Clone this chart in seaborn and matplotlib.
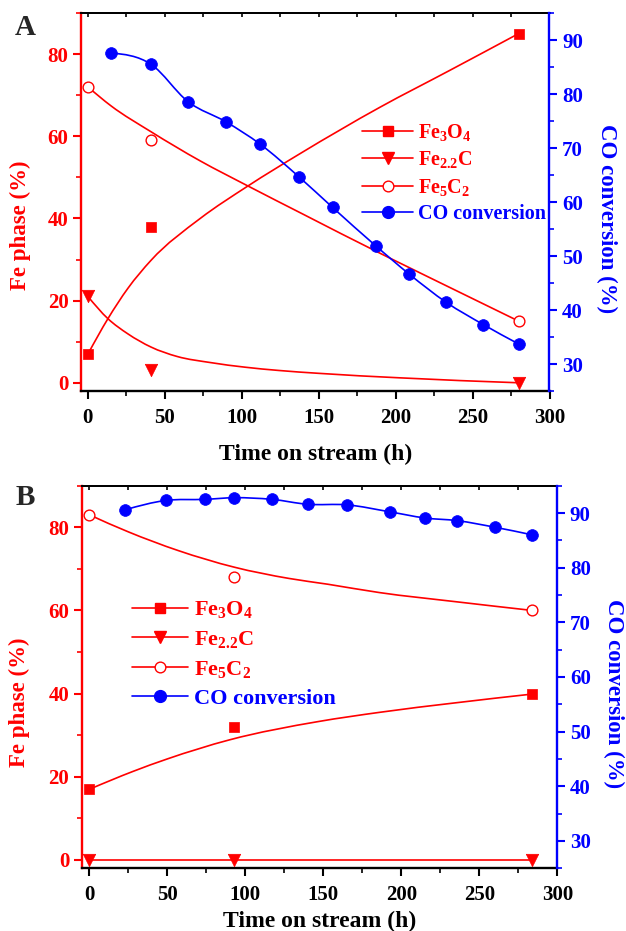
import numpy as np
import pandas as pd
import matplotlib
matplotlib.use("Agg")
import matplotlib.pyplot as plt
import seaborn as sns
from matplotlib.path import Path
from matplotlib.patches import PathPatch
from matplotlib.lines import Line2D
from matplotlib.ticker import MultipleLocator

# ---------------- Panel A data ----------------
a_fe_time = [0, 41, 280]
a_fe3o4 = [7, 38, 85]
a_fe22c = [21, 3, 0]
a_fe5c2 = [72, 59, 15]
a_co_time = [15, 41, 65, 90, 112, 137, 159, 187, 209, 233, 257, 280]
a_co = [87.6, 85.5, 78.6, 74.8, 70.7, 64.7, 59.0, 51.9, 46.6, 41.4, 37.3, 33.7]
# trend curves
a_fe3o4_fit_t = [0, 13, 26, 41, 73, 104, 138, 190, 235, 280]
a_fe3o4_fit = [7, 15.6, 23.0, 29.8, 40.0, 47.9, 55.8, 67.1, 76.0, 85]
a_fe22c_fit_t = [0, 13, 26, 41, 58, 80, 102, 124, 150, 203, 280]
a_fe22c_fit = [21, 15.6, 11.9, 8.7, 6.4, 4.9, 3.8, 3.0, 2.3, 1.2, 0]
a_fe5c2_fit_t = [0, 15, 41, 73, 104, 140, 190, 209, 233, 280]
a_fe5c2_fit = [72, 67.4, 61.1, 54.0, 47.9, 41.0, 31.5, 28.0, 23.6, 15]

# ---------------- Panel B data ----------------
b_fe_time = [0, 93, 284]
b_fe3o4 = [17, 32, 40]
b_fe22c = [0, 0, 0]
b_fe5c2 = [83, 68, 60]
b_co_time = [23, 49, 74, 93, 117, 140, 165, 193, 215, 236, 260, 284]
b_co = [90.6, 92.3, 92.5, 92.8, 92.5, 91.6, 91.5, 90.2, 89.1, 88.6, 87.4, 86.0]
b_fe3o4_fit_t = [0, 28, 50, 90, 147, 186, 235, 284]
b_fe3o4_fit = [17, 21.3, 24.3, 28.9, 33.3, 35.5, 37.8, 39.9]
b_fe22c_fit_t = [0, 284]
b_fe22c_fit = [0, 0]
b_fe5c2_fit_t = [0, 25, 57, 93, 128, 153, 186, 235, 284]
b_fe5c2_fit = [83, 78.9, 74.4, 70.4, 67.7, 66.3, 64.3, 62.1, 60]

legend_labels = [r'Fe$_{3}$O$_{4}$', r'Fe$_{2.2}$C', r'Fe$_{5}$C$_{2}$', 'CO conversion']
x_label = 'Time on stream (h)'
y_left_label = 'Fe phase (%)'
y_right_label = 'CO conversion (%)'

RED = '#FF0000'
BLUE = '#0000FF'

sns.set_style('ticks')
plt.rcParams['font.family'] = ['Liberation Serif', 'DejaVu Serif']
plt.rcParams['font.weight'] = 'bold'
plt.rcParams['axes.labelweight'] = 'bold'
plt.rcParams['mathtext.default'] = 'regular'


def draw_curve(ax, t, v, color, lw=1.2, z=2):
    """Smooth cubic Hermite curve through the given points (drawn in data coords)."""
    x = np.asarray(t, float)
    y = np.asarray(v, float)
    n = len(x)
    if n == 2:
        verts = [(x[0], y[0]), (x[1], y[1])]
        codes = [Path.MOVETO, Path.LINETO]
    else:
        h = np.diff(x)
        d = np.diff(y) / h
        m = np.empty(n)
        m[1:-1] = (d[:-1] * h[1:] + d[1:] * h[:-1]) / (h[:-1] + h[1:])
        m[0] = 1.5 * d[0] - 0.5 * m[1]
        m[-1] = 1.5 * d[-1] - 0.5 * m[-2]
        verts = [(x[0], y[0])]
        codes = [Path.MOVETO]
        for i in range(n - 1):
            verts += [(x[i] + h[i] / 3, y[i] + m[i] * h[i] / 3),
                      (x[i + 1] - h[i] / 3, y[i + 1] - m[i + 1] * h[i] / 3),
                      (x[i + 1], y[i + 1])]
            codes += [Path.CURVE4] * 3
    ax.add_patch(PathPatch(Path(verts, codes), fill=False, edgecolor=color,
                           lw=lw, zorder=z, capstyle='round'))


def panel(fig, rect, fe_t, fe3o4, fe22c, fe5c2, co_t, co, fits, xlim,
          leg_anchor, leg_size, leg_spacing, ylab_left, ylab_right, xlab_y):
    ax = fig.add_axes(rect)
    ax2 = ax.twinx()
    ax.set_xlim(*xlim)
    ax.set_ylim(-2, 90)
    ax2.set_ylim(25, 95)

    (f3t, f3), (f22t, f22), (f5t, f5) = fits
    draw_curve(ax, f3t, f3, RED)
    draw_curve(ax, f22t, f22, RED)
    draw_curve(ax, f5t, f5, RED)
    draw_curve(ax2, co_t, co, BLUE)

    sns.scatterplot(x=fe_t, y=fe3o4, marker='s', s=55, color=RED, edgecolor=RED,
                    linewidth=0.5, ax=ax, zorder=4, legend=False)
    sns.scatterplot(x=fe_t, y=fe22c, marker='v', s=80, color=RED, edgecolor=RED,
                    linewidth=0.5, ax=ax, zorder=4, legend=False)
    sns.scatterplot(x=fe_t, y=fe5c2, marker='o', s=60, facecolor='white', edgecolor=RED,
                    linewidth=1.0, ax=ax, zorder=4, legend=False)
    sns.scatterplot(x=co_t, y=co, marker='o', s=72, color=BLUE, edgecolor=BLUE,
                    linewidth=0.5, ax=ax2, zorder=4, legend=False)

    ax.spines['left'].set_color(RED)
    ax.spines['left'].set_linewidth(1.7)
    ax.spines['bottom'].set_linewidth(1.7)
    ax.spines['bottom'].set_color('black')
    ax.spines['top'].set_linewidth(1.4)
    ax.spines['top'].set_color('black')
    ax.spines['right'].set_visible(False)
    for s in ['left', 'top', 'bottom']:
        ax2.spines[s].set_visible(False)
    ax2.spines['right'].set_color(BLUE)
    ax2.spines['right'].set_linewidth(1.7)

    ax.xaxis.set_major_locator(MultipleLocator(50))
    ax.xaxis.set_minor_locator(MultipleLocator(25))
    ax.yaxis.set_major_locator(MultipleLocator(20))
    ax.yaxis.set_minor_locator(MultipleLocator(10))
    ax2.yaxis.set_major_locator(MultipleLocator(10))
    ax2.yaxis.set_minor_locator(MultipleLocator(5))
    ax.tick_params(axis='x', which='major', direction='out', length=6, width=1.5,
                   labelsize=15, colors='black', pad=6, top=False)
    ax.tick_params(axis='x', which='minor', direction='out', length=3.5, width=1.2,
                   colors='black', top=False)
    ax.tick_params(axis='y', which='major', direction='out', length=6, width=1.5,
                   labelsize=15, colors=RED, pad=3)
    ax.tick_params(axis='y', which='minor', direction='out', length=3.5, width=1.2,
                   colors=RED)
    ax2.tick_params(axis='y', which='major', direction='out', length=6, width=1.5,
                    labelsize=15, colors=BLUE, pad=3)
    ax2.tick_params(axis='y', which='minor', direction='out', length=3.5, width=1.2,
                    colors=BLUE)
    sec = ax.secondary_xaxis('top')
    sec.xaxis.set_major_locator(MultipleLocator(25))
    sec.tick_params(axis='x', direction='in', length=3, width=1.2, labeltop=False,
                    labelbottom=False, colors='black')
    sec.spines['top'].set_linewidth(1.4)

    ax.set_xlabel(x_label, fontsize=17, color='black')
    ax.xaxis.label.set_va('center')
    ax.xaxis.set_label_coords(0.5, xlab_y)
    ax.set_ylabel(y_left_label, fontsize=16.5, color=RED)
    ax.yaxis.label.set_va('center')
    ax.yaxis.set_label_coords(*ylab_left)
    ax2.set_ylabel(y_right_label, fontsize=16.5, color=BLUE, rotation=270)
    ax2.yaxis.label.set_va('center')
    ax2.yaxis.set_label_coords(*ylab_right)

    handles = [
        Line2D([], [], color=RED, lw=1.2, marker='s', ms=7.4, mfc=RED, mec=RED),
        Line2D([], [], color=RED, lw=1.2, marker='v', ms=8.9, mfc=RED, mec=RED),
        Line2D([], [], color=RED, lw=1.2, marker='o', ms=7.7, mfc='white', mec=RED, mew=1.0),
        Line2D([], [], color=BLUE, lw=1.2, marker='o', ms=8.5, mfc=BLUE, mec=BLUE),
    ]
    ax2.legend(handles, legend_labels, loc='upper left', bbox_to_anchor=leg_anchor,
               frameon=False, fontsize=leg_size, handlelength=2.55, handletextpad=0.25,
               labelspacing=leg_spacing, borderpad=0, borderaxespad=0,
               labelcolor=[RED, RED, RED, BLUE])
    return ax, ax2


fig = plt.figure(figsize=(6.26, 9.31), dpi=100)

panel(fig, [81 / 626, 1 - 391 / 931, 468.5 / 626, 378 / 931],
      a_fe_time, a_fe3o4, a_fe22c, a_fe5c2, a_co_time, a_co,
      [(a_fe3o4_fit_t, a_fe3o4_fit), (a_fe22c_fit_t, a_fe22c_fit), (a_fe5c2_fit_t, a_fe5c2_fit)],
      (-4.5, 300), (0.6, 0.712), 14.5, 0.32, (-0.13, 0.439), (1.122, 0.455), -0.168)

panel(fig, [81.7 / 626, 1 - 868.3 / 931, 475.6 / 626, 382.6 / 931],
      b_fe_time, b_fe3o4, b_fe22c, b_fe5c2, b_co_time, b_co,
      [(b_fe3o4_fit_t, b_fe3o4_fit), (b_fe22c_fit_t, b_fe22c_fit), (b_fe5c2_fit_t, b_fe5c2_fit)],
      (-4.9, 300), (0.105, 0.703), 16, 0.39, (-0.13, 0.435), (1.118, 0.456), -0.138)

fig.text(15 / 626, 1 - 14 / 931, 'A', fontsize=21, fontweight='bold', va='top', ha='left')
fig.text(16 / 626, 1 - 484 / 931, 'B', fontsize=21, fontweight='bold', va='top', ha='left')

fig.savefig('out.png', dpi=100)
